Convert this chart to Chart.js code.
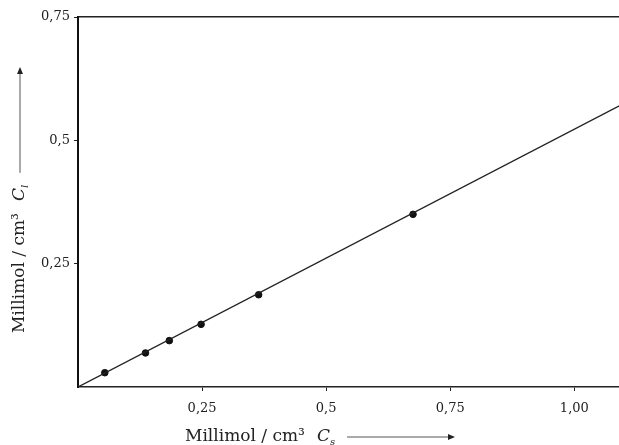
<!DOCTYPE html>
<html lang="de">
<head>
    <meta charset="UTF-8">
    <title>Millimol / cm³</title>
    <script src="https://cdn.jsdelivr.net/npm/chart.js"></script>
    <style>
        body {
            margin: 0;
            padding: 0;
            background-color: #ffffff;
        }
        canvas {
            display: block;
        }
    </style>
</head>
<body>
    <canvas id="grafico" width="619" height="445"></canvas>

    <script>
        // Messpunkte (C_s, C_l)
        const messX = [0.054, 0.136, 0.184, 0.248, 0.364, 0.675];
        const messY = [0.029, 0.069, 0.094, 0.127, 0.187, 0.350];

        // Ausgleichsgerade
        const geradeX = [0, 1.2];
        const geradeY = [0, 0.627];

        // Achsenteilung
        const xTicks = [0.25, 0.5, 0.75, 1.0];
        const xTickLabels = ['0,25', '0,5', '0,75', '1,00'];
        const yTicks = [0.25, 0.5, 0.75];
        const yTickLabels = ['0,25', '0,5', '0,75'];

        const schrift = '"DejaVu Serif", "Liberation Serif", serif';

        // Achsentitel mit kursivem C, Index und Pfeil bis "ende"
        function zeichneTitel(ctx, x, y, text, index, ende) {
            const start = x;
            ctx.textBaseline = 'middle';
            ctx.textAlign = 'left';
            ctx.font = '17px ' + schrift;
            ctx.fillText(text, x, y);
            x += ctx.measureText(text).width + 12;
            ctx.font = 'italic 17px ' + schrift;
            ctx.fillText('C', x, y);
            x += ctx.measureText('C').width;
            ctx.font = 'italic 10px ' + schrift;
            ctx.fillText(index, x, y + 5);
            x += ctx.measureText(index).width + 12;
            const spitze = start + ende;
            ctx.beginPath();
            ctx.moveTo(x, y);
            ctx.lineTo(spitze - 3, y);
            ctx.stroke();
            ctx.beginPath();
            ctx.moveTo(spitze, y);
            ctx.lineTo(spitze - 7, y - 3);
            ctx.lineTo(spitze - 7, y + 3);
            ctx.closePath();
            ctx.fill();
        }

        const achsenTitel = {
            id: 'achsenTitel',
            afterDraw(chart) {
                const ctx = chart.ctx;
                const area = chart.chartArea;
                ctx.save();
                ctx.fillStyle = '#222';
                ctx.strokeStyle = '#555';
                ctx.lineWidth = 1;
                zeichneTitel(ctx, area.left + 107, area.bottom + 50, 'Millimol / cm³', 's', 270);
                ctx.translate(20, area.bottom - 54);
                ctx.rotate(-Math.PI / 2);
                zeichneTitel(ctx, 0, 0, 'Millimol / cm³', 'l', 266);
                ctx.restore();
            }
        };

        function gerarGrafico() {
            const ctx = document.getElementById('grafico').getContext('2d');

            new Chart(ctx, {
                type: 'scatter',
                data: {
                    datasets: [
                        {
                            label: 'Gerade',
                            type: 'line',
                            data: geradeX.map((x, i) => ({ x: x, y: geradeY[i] })),
                            borderColor: '#222',
                            borderWidth: 1.3,
                            pointRadius: 0,
                            fill: false
                        },
                        {
                            label: 'Messwerte',
                            data: messX.map((x, i) => ({ x: x, y: messY[i] })),
                            backgroundColor: '#111',
                            borderColor: '#111',
                            pointRadius: 3.3
                        }
                    ]
                },
                options: {
                    responsive: false,
                    animation: false,
                    layout: {
                        autoPadding: false,
                        padding: { top: 17, right: 0, bottom: 0, left: 0 }
                    },
                    plugins: {
                        legend: { display: false },
                        tooltip: { enabled: false }
                    },
                    scales: {
                        x: {
                            type: 'linear',
                            position: 'bottom',
                            min: 0,
                            max: 1.09,
                            afterFit: s => { s.height = 58; },
                            afterBuildTicks: s => { s.ticks = xTicks.map(v => ({ value: v })); },
                            ticks: {
                                callback: (v, i) => xTickLabels[i],
                                color: '#222',
                                padding: 10,
                                maxRotation: 0,
                                font: { family: schrift, size: 13 }
                            },
                            grid: {
                                drawOnChartArea: false,
                                tickLength: 4,
                                color: '#222'
                            },
                            border: { display: true, color: '#222', width: 1.5 }
                        },
                        xOben: {
                            type: 'linear',
                            position: 'top',
                            min: 0,
                            max: 1.09,
                            afterFit: s => { s.height = 0; },
                            ticks: { display: false },
                            grid: { display: false },
                            border: { display: true, color: '#222', width: 1.5 }
                        },
                        y: {
                            type: 'linear',
                            position: 'left',
                            min: 0,
                            max: 0.75,
                            afterFit: s => { s.width = 78; },
                            afterBuildTicks: s => { s.ticks = yTicks.map(v => ({ value: v })); },
                            ticks: {
                                callback: (v, i) => yTickLabels[i],
                                color: '#222',
                                padding: 4,
                                font: { family: schrift, size: 13 }
                            },
                            grid: {
                                drawOnChartArea: false,
                                tickLength: 4,
                                color: '#222'
                            },
                            border: { display: true, color: '#111', width: 2 }
                        }
                    }
                },
                plugins: [achsenTitel]
            });
        }

        gerarGrafico();
    </script>
</body>
</html>
